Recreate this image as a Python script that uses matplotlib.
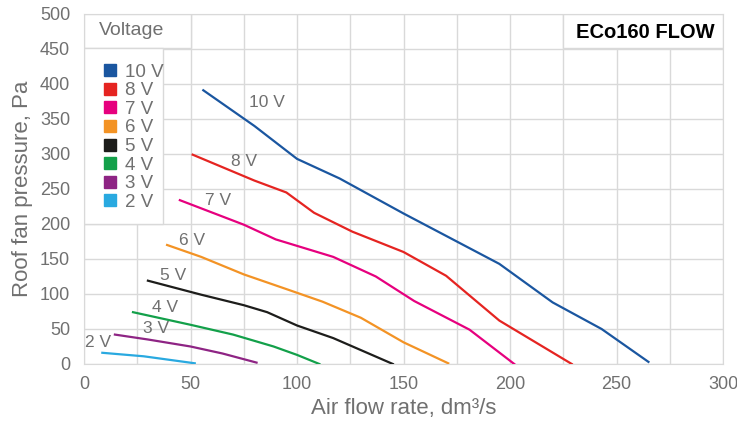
import matplotlib.pyplot as plt
from matplotlib.lines import Line2D
from matplotlib.patches import Rectangle

# curves: air flow (dm3/s) vs pressure (Pa)
v10_x = [56, 80, 100, 120, 150, 170, 195, 220, 243, 265]
v10_y = [391, 340, 293, 265, 215, 183, 143, 88, 50, 3]
v8_x = [51, 80, 95, 108, 126, 150, 170, 195, 229]
v8_y = [299, 262, 245, 216, 189, 160, 126, 62, 0]
v7_x = [45, 75, 90, 117, 137, 155, 181, 202]
v7_y = [234, 199, 178, 153, 125, 90, 49, 0]
v6_x = [39, 55, 75, 95, 112, 130, 150, 171]
v6_y = [170, 153, 128, 107, 89, 66, 31, 1]
v5_x = [30, 55, 75, 86, 100, 117, 145]
v5_y = [119, 99, 84, 74, 55, 37, 0]
v4_x = [23, 50, 70, 89, 100, 110.5]
v4_y = [74, 56, 42, 25, 13, 0]
v3_x = [14.5, 30, 50, 65, 81]
v3_y = [42, 35, 25, 15, 2]
v2_x = [8.6, 28, 40, 52]
v2_y = [16, 11, 6, 1]

labels = ['10 V', '8 V', '7 V', '6 V', '5 V', '4 V', '3 V', '2 V']
colors = ['#1a56a0', '#e52421', '#e6007e', '#f39325', '#1d1d1b', '#13a04a', '#8e2484', '#29a9e0']
xs = [v10_x, v8_x, v7_x, v6_x, v5_x, v4_x, v3_x, v2_x]
ys = [v10_y, v8_y, v7_y, v6_y, v5_y, v4_y, v3_y, v2_y]
# where the curve labels sit
label_pos = [(86, 374), (75, 289), (63, 234), (50.5, 177), (42, 126), (38, 80), (34, 50), (6.5, 31)]

plt.rcParams['font.family'] = ['Liberation Sans', 'DejaVu Sans']
grey = '#707070'
grid_c = '#d9d9d9'

fig = plt.figure(figsize=(7.37, 4.23), dpi=100)
ax = fig.add_axes([0.114, 0.1395, 0.867, 0.8275])

for x, y, c in zip(xs, ys, colors):
    ax.plot(x, y, color=c, linewidth=1.6, zorder=3)
for (lx, ly), lab in zip(label_pos, labels):
    ax.text(lx, ly, lab, color=grey, fontsize=12.5, ha='center', va='center', zorder=4)

ax.set_xlim(0, 300)
ax.set_ylim(0, 500)
ax.set_xticks(range(0, 301, 50))
ax.set_xticks(range(0, 301, 25), minor=True)
ax.set_yticks(range(0, 501, 50))
ax.grid(True, which='both', color=grid_c, linewidth=1)
ax.set_axisbelow(True)
for s in ax.spines.values():
    s.set_color(grid_c)
ax.tick_params(which='both', length=0, labelsize=13, labelcolor=grey)
ax.tick_params(axis='x', pad=9)
ax.tick_params(axis='y', pad=10)
ax.set_xlabel('Air flow rate, dm³/s', fontsize=16, color=grey, labelpad=3)
ax.set_ylabel('Roof fan pressure, Pa', fontsize=16, color=grey, labelpad=5)

# legend boxes
ax.add_patch(Rectangle((0, 452), 50, 48, facecolor='white', edgecolor=grid_c, lw=1, zorder=2))
ax.add_patch(Rectangle((0, 200), 37, 252, facecolor='white', edgecolor=grid_c, lw=1, zorder=2))
ax.text(7, 476, 'Voltage', color=grey, fontsize=14, va='center', zorder=4)
handles = [Line2D([], [], marker='s', linestyle='none', markersize=8, color=c) for c in colors]
leg = ax.legend(handles, labels, loc='upper left', bbox_to_anchor=(0.015, 0.88), frameon=False,
                handletextpad=0.3, labelspacing=0.08, fontsize=13.5, handlelength=1.0,
                borderaxespad=0)
for t in leg.get_texts():
    t.set_color(grey)

# title box
ax.add_patch(Rectangle((225, 452), 75, 48, facecolor='white', edgecolor=grid_c, lw=1, zorder=2))
ax.text(296, 474, 'ECo160 FLOW', color='black', fontsize=14.5, fontweight='bold',
        ha='right', va='center', zorder=4)

fig.savefig('out.png', dpi=100)
